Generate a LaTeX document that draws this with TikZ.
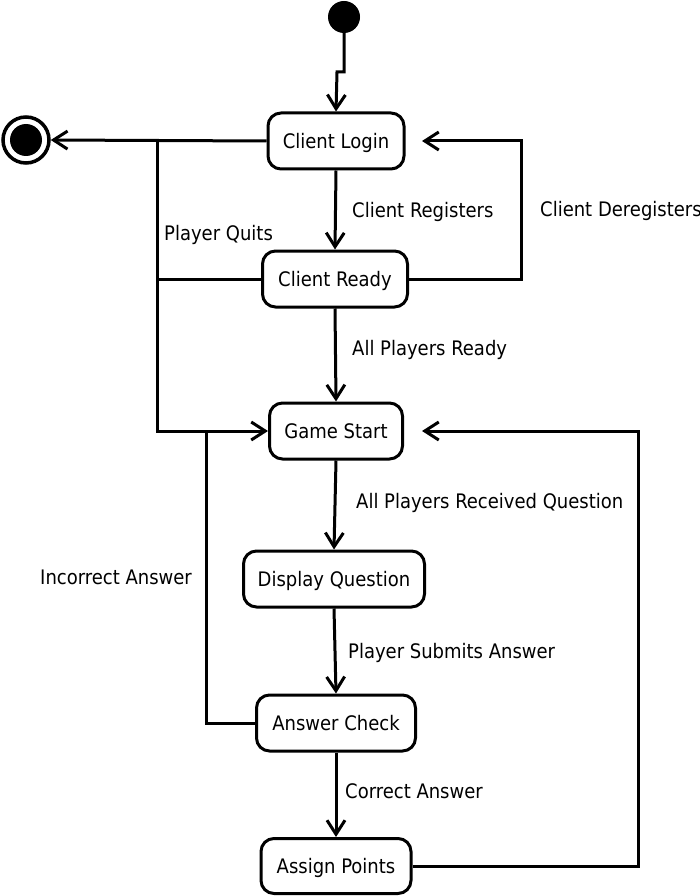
\documentclass[tikz,border=0pt]{standalone}
\usepackage{fontspec}
\setmainfont{DejaVu Sans Condensed}
\usetikzlibrary{arrows.meta}
\begin{document}
\begin{tikzpicture}[x=1pt,y=-1pt,
  state/.style={draw,line width=3pt,rounded corners=13pt,minimum height=56pt,inner sep=0pt,
    font=\fontsize{20}{24}\selectfont,text height=15pt,text depth=0.5pt},
  lbl/.style={anchor=base west,inner sep=0pt,font=\fontsize{20}{24}\selectfont},
  conn/.style={line width=3pt,-{Straight Barb[length=14pt,width=18pt]}},
  wire/.style={line width=3pt}]
\useasboundingbox (0,0) rectangle (700,896);

% start and end states
\node[circle,fill,inner sep=0pt,minimum size=32pt] (init) at (344,17) {};
\node[circle,draw,line width=3.5pt,minimum size=46pt,inner sep=0pt] (final) at (26,140) {};
\fill (final.center) circle (16pt);

% states
\node[state,minimum width=136pt] (login) at (336,141) {Client Login};
\node[state,minimum width=145pt] (ready) at (335,279) {Client Ready};
\node[state,minimum width=133pt] (start) at (336,431) {Game Start};
\node[state,minimum width=181pt] (display) at (334,579) {Display Question};
\node[state,minimum width=159pt] (check) at (336,723) {Answer Check};
\node[state,minimum width=150pt,minimum height=55pt] (assign) at (336,866) {Assign Points};

% helper coordinates
\coordinate (j1) at (337,72);
\coordinate (q1) at (157,141);
\coordinate (q3) at (206,431);
\coordinate (d2) at (521,141);
\coordinate (d3) at (422,141);
\coordinate (g2) at (638,431);
\coordinate (g3) at (422,431);

% connectors
\draw[conn] (init) |- (j1) -- (login.north);
\draw[conn] (login.west) -- (final.east);
\draw[conn] (login.south) -- (ready.north);
\draw[conn] (ready.east) -| (d2) -- (d3);
\draw[wire] (ready.west) -- (ready.west -| q1);
\draw[conn] (q1) |- (start.west);
\draw[conn] (ready.south) -- (start.north);
\draw[conn] (start.south) -- (display.north);
\draw[conn] (display.south) -- (check.north);
\draw[wire] (check.west) -| (q3);
\draw[conn] (check.south) -- (assign.north);
\draw[conn] (assign.east) -| (g2) -- (g3);

% labels
\node[lbl] (l1) at (352,217) {Client Registers};
\node[lbl] (l2) at (540,216) {Client Deregisters};
\node[lbl] (l3) at (164,240) {Player Quits};
\node[lbl] (l4) at (352,355) {All Players Ready};
\node[lbl] (l5) at (356,508) {All Players Received Question};
\node[lbl] (l6) at (40,584) {Incorrect Answer};
\node[lbl] (l7) at (348,658) {Player Submits Answer};
\node[lbl] (l8) at (345,798) {Correct Answer};
\end{tikzpicture}
\end{document}
